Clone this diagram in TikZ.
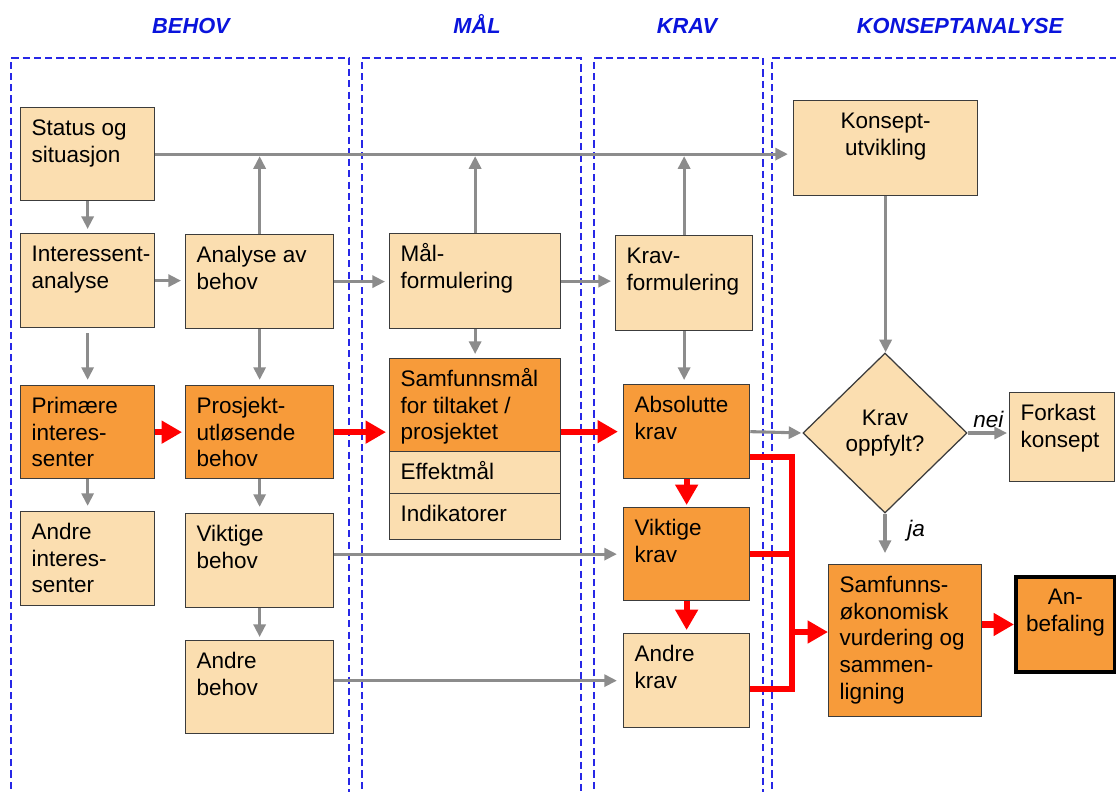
\documentclass[tikz,border=0pt]{standalone}
\usepackage{fontspec}
\setmainfont{Liberation Sans}
\usepackage{xcolor}
\usetikzlibrary{arrows.meta, shapes.geometric}
\newlength\enh
\setlength\enh{0.025cm}
\definecolor{lys}{RGB}{251,222,176}
\definecolor{mork}{RGB}{247,155,58}
\definecolor{pil}{RGB}{140,140,140}
\definecolor{kant}{RGB}{60,60,60}
\definecolor{tittel}{RGB}{10,20,220}
\definecolor{ramme}{RGB}{40,40,230}
\hyphenpenalty=10000
\exhyphenpenalty=10000
\newcommand{\innhold}[3]{\parbox[c][#2\enh][t]{#1\enh}{\raggedright\leftskip=11\enh\vspace*{9\enh}\strut#3}}
\newcommand{\midtinnhold}[3]{\parbox[c][#2\enh][t]{#1\enh}{\centering\vspace*{9\enh}\strut#3}}
\tikzset{boks/.style={draw=kant, line width=0.9pt, fill=lys, anchor=north west, inner sep=0pt, font=\fontsize{16}{19}\selectfont},
  valg/.style={diamond, aspect=1, draw=kant, line width=0.9pt, fill=lys, minimum width=116.7pt, minimum height=113.8pt, inner sep=0pt, align=center, font=\fontsize{16}{19}\selectfont},
  tittelstil/.style={text=tittel, anchor=base, font=\fontsize{15.5}{18}\selectfont\bfseries\itshape},
  rammestil/.style={draw=ramme, line width=1pt, dash pattern=on 5pt off 3pt},
  grapil/.style={draw=pil, line width=2.2pt, -{Triangle[length=9pt,width=8.5pt]}},
  rodpil/.style={draw=red, line width=4.3pt, -{Triangle[length=14.5pt,width=15.5pt]}},
  rodlinje/.style={draw=red, line width=4.3pt, line join=miter},
  svar/.style={font=\fontsize{16}{19}\selectfont\itshape}}

\begin{document}
\begin{tikzpicture}[x=0.025cm, y=-0.025cm]
  \useasboundingbox (0,0) rectangle (1116,791);
  % Column titles
  \node[tittelstil] (t-behov) at (191,33) {BEHOV};
  \node[tittelstil] (t-maal) at (477,33) {MÅL};
  \node[tittelstil] (t-krav) at (687,33) {KRAV};
  \node[tittelstil] (t-konsept) at (960,33) {KONSEPTANALYSE};

  % Dashed column frames
  \draw[rammestil] (11,800) |- (349,58) -- (349,800);
  \draw[rammestil] (362,800) |- (581,58) -- (581,800);
  \draw[rammestil] (594,800) |- (763,58) -- (763,800);
  \draw[rammestil] (772,800) |- (1120,58);

  % BEHOV boxes
  \node[boks] (status) at (20,107) {\innhold{134}{93}{Status og\\situasjon}};
  \node[boks] (interessent) at (20,233) {\innhold{134}{94}{Interessent-\\analyse}};
  \node[boks, fill=mork] (primaere) at (20,385) {\innhold{134}{93}{Primære\\interes-\\senter}};
  \node[boks] (andreint) at (20,511) {\innhold{134}{94}{Andre\\interes-\\senter}};
  \node[boks] (analyse) at (185,234) {\innhold{148}{94}{Analyse av\\behov}};
  \node[boks, fill=mork] (utlosende) at (185,385) {\innhold{148}{93}{Prosjekt-\\utløsende\\behov}};
  \node[boks] (viktbehov) at (185,513) {\innhold{148}{94}{Viktige\\behov}};
  \node[boks] (andrebehov) at (185,640) {\innhold{148}{93}{Andre\\behov}};

  % MÅL boxes
  \node[boks] (maal) at (389,233) {\innhold{171}{95}{Mål-\\formulering}};
  \node[boks, fill=mork] (samfmaal) at (389,358) {\innhold{171}{93}{Samfunnsmål\\for tiltaket /\\prosjektet}};
  \node[boks] (effekt) at (389,451) {\innhold{171}{42}{Effektmål}};
  \node[boks] (indikator) at (389,493) {\innhold{171}{46}{Indikatorer}};

  % KRAV boxes
  \node[boks] (kravform) at (615,235) {\innhold{137}{95}{Krav-\\formulering}};
  \node[boks, fill=mork] (absolutt) at (623,384) {\innhold{126}{94}{Absolutte\\krav}};
  \node[boks, fill=mork] (viktkrav) at (623,507) {\innhold{126}{93}{Viktige\\krav}};
  \node[boks] (andrekrav) at (623,633) {\innhold{126}{94}{Andre\\krav}};

  % KONSEPTANALYSE boxes
  \node[boks] (konsept) at (793,100) {\midtinnhold{184}{95}{Konsept-\\utvikling}};
  \node[valg] (oppfylt) at (885,433) {Krav\\oppfylt?};
  \node[boks] (forkast) at (1009,392) {\innhold{105}{89}{Forkast\\konsept}};
  \node[boks, fill=mork] (samfok) at (828,564) {\innhold{153}{152}{Samfunns-\\økonomisk\\vurdering og\\sammen-\\ligning}};
  \node[boks, fill=mork, draw=black, line width=2.8pt] (anbefaling) at (1014,575) {\midtinnhold{99}{95}{An-\\befaling}};

  % Grey connectors
  \draw[grapil, shorten >=3.6pt] (status.east) -- (status.east -| konsept.west);
  \draw[grapil, shorten >=2.8pt] (status.south) -- (interessent.north);
  \draw[grapil, shorten <=3.6pt, shorten >=3.6pt] (interessent.south) -- (primaere.north);
  \draw[grapil, shorten >=3.6pt] (primaere.south) -- (andreint.north);
  \draw[grapil, shorten >=2.8pt] (interessent.east) -- (interessent.east -| analyse.west);
  \draw[grapil, shorten >=1.4pt] (analyse.north) -- (analyse.north |- status.east);
  \draw[grapil, shorten >=3.6pt] (analyse.south) -- (utlosende.north);
  \draw[grapil, shorten >=4.3pt] (utlosende.south) -- (viktbehov.north);
  \draw[grapil, shorten >=2.1pt] (viktbehov.south) -- (andrebehov.north);
  \draw[grapil, shorten >=2.8pt] (analyse.east) -- (analyse.east -| maal.west);
  \draw[grapil, shorten >=1.4pt] (maal.north) -- (maal.north |- status.east);
  \draw[grapil, shorten >=2.8pt] (maal.south) -- (samfmaal.north);
  \draw[grapil, shorten >=2.8pt] (maal.east) -- (maal.east -| kravform.west);
  \draw[grapil, shorten >=1.4pt] (kravform.north) -- (kravform.north |- status.east);
  \draw[grapil, shorten >=2.8pt] (kravform.south) -- (kravform.south |- absolutt.north);
  \draw[grapil, shorten >=4.3pt] (viktkrav.west -| viktbehov.east) -- (viktkrav.west);
  \draw[grapil, shorten >=4.3pt] (andrekrav.west -| andrebehov.east) -- (andrekrav.west);
  \draw[grapil] (konsept.south) -- (konsept.south |- oppfylt.north);
  \draw[grapil, shorten >=0.7pt] (absolutt.east) -- (oppfylt.west);
  \draw[grapil, shorten >=1.4pt] (oppfylt.east) -- (oppfylt.east -| forkast.west)
    node[svar, midway, above, inner sep=3pt] (nei) {nei};
  \draw[grapil, shorten >=7.8pt] (oppfylt.south) -- (oppfylt.south |- samfok.north)
    node[svar, pos=0.33, right=11.4pt] (ja) {ja};

  % Red connectors
  \coordinate (samle) at (792,632);
  \draw[rodpil, shorten >=2.1pt] (primaere.east) -- (utlosende.west);
  \draw[rodpil, shorten >=2.1pt] (utlosende.east) -- (utlosende.east -| samfmaal.west);
  \draw[rodpil, shorten >=3.6pt] (absolutt.west -| samfmaal.east) -- (absolutt.west);
  \draw[rodpil, shorten >=1.4pt] (absolutt.south) -- (viktkrav.north);
  \draw[rodpil, shorten >=2.1pt] (viktkrav.south) -- (andrekrav.north);
  \draw[rodlinje] ([yshift=-17.8pt]absolutt.east) -| (samle);
  \draw[rodlinje] ([yshift=-5.7pt]andrekrav.east) -| (samle);
  \draw[rodlinje] (viktkrav.east) -- (viktkrav.east -| samle);
  \draw[rodpil] (samle) -- (samle -| samfok.west);
  \draw[rodpil] (anbefaling.west -| samfok.east) -- (anbefaling.west);
\end{tikzpicture}
\end{document}
